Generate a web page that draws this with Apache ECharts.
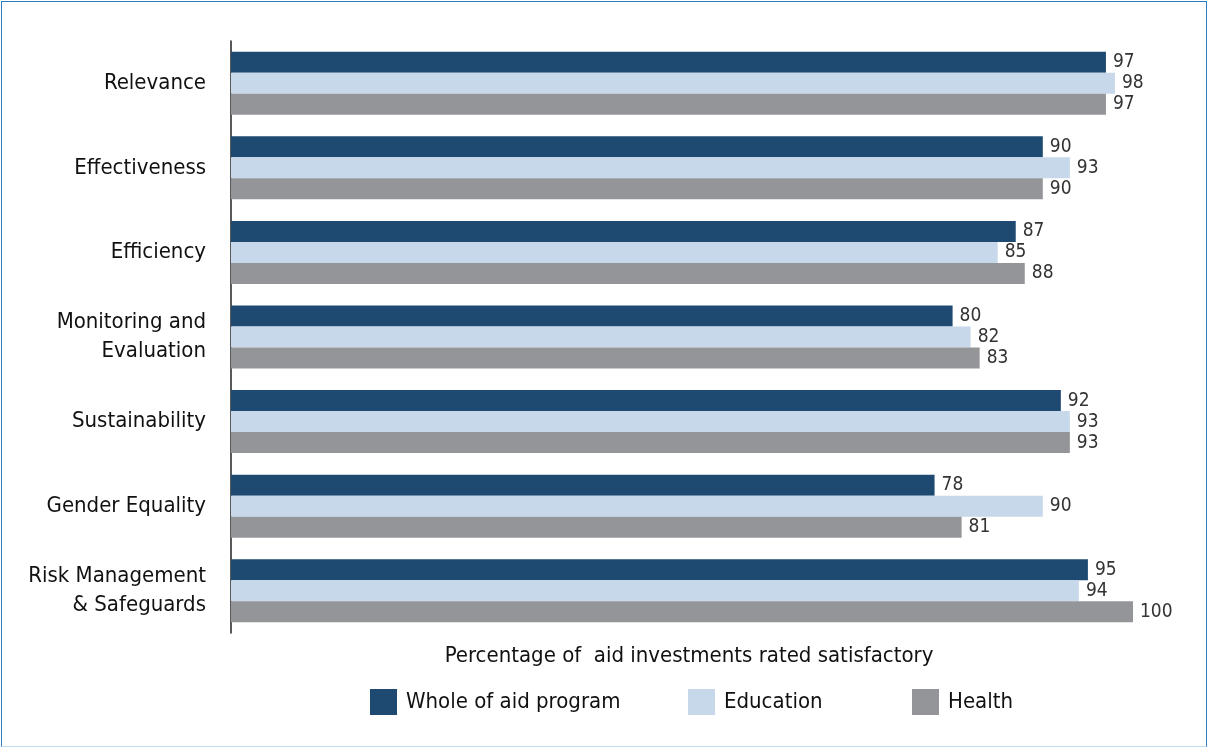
<!DOCTYPE html>
<html>
<head>
<meta charset="utf-8">
<script src="https://cdn.jsdelivr.net/npm/echarts@6/dist/echarts.min.js"></script>
<style>
  html, body { margin: 0; padding: 0; background: #fff; }
  #frame {
    position: absolute; left: 1px; top: 1px; width: 1204px; height: 744px;
    border: 1.5px solid #2b7bc2; border-bottom-color: #c2dcef;
  }
  #chart { position: absolute; left: 0; top: 0; width: 1208px; height: 749px; }
</style>
</head>
<body>
<div id="frame"></div>
<div id="chart"></div>
<script>
  // categories and values
  const categories = ['Relevance', 'Effectiveness', 'Efficiency', 'Monitoring and\nEvaluation',
    'Sustainability', 'Gender Equality', 'Risk Management\n& Safeguards'];
  const seriesNames = ['Whole of aid program', 'Education', 'Health'];
  const wholeProgram = [97, 90, 87, 80, 92, 78, 95];
  const education = [98, 93, 85, 82, 93, 90, 94];
  const health = [97, 90, 88, 83, 93, 81, 100];
  const colors = ['#1e4a72', '#c6d8ea', '#939598'];
  const legendLefts = [370, 688, 912];

  const font = '"Liberation Sans Narrow", "DejaVu Sans Condensed", sans-serif';
  let chart = echarts.init(document.getElementById('chart'));

  let data = [wholeProgram, education, health];
  let series = [];
  let legends = [];
  for (let i = 0; i < data.length; i++) {
    series.push({
      name: seriesNames[i],
      type: 'bar',
      data: data[i],
      barWidth: 21,
      barGap: '0%',
      itemStyle: { color: colors[i] },
      label: {
        show: true,
        position: 'right',
        distance: 7,
        color: '#333',
        fontSize: 19,
        fontFamily: font
      }
    });
    // one legend per item so the spacing matches the picture
    legends.push({
      data: [seriesNames[i]],
      left: legendLefts[i],
      top: 689,
      padding: 0,
      itemWidth: 27,
      itemHeight: 26,
      icon: 'rect',
      textStyle: { fontSize: 22, color: '#111', fontFamily: font, padding: [0, 0, 0, 4] }
    });
  }

  chart.setOption({
    animation: false,
    textStyle: { fontFamily: font },
    grid: { left: 231, right: 75, top: 41, bottom: 116 },
    legend: legends,
    xAxis: {
      type: 'value',
      min: 0,
      max: 100,
      name: 'Percentage of  aid investments rated satisfactory',
      nameLocation: 'middle',
      nameGap: 12,
      nameTextStyle: { fontSize: 22, color: '#111', fontFamily: font, padding: [0, 0, 0, 14] },
      axisLine: { show: false },
      axisTick: { show: false },
      axisLabel: { show: false },
      splitLine: { show: false }
    },
    yAxis: {
      type: 'category',
      inverse: true,
      data: categories,
      axisLine: { show: true, lineStyle: { color: '#222', width: 1.5 } },
      axisTick: { show: false },
      axisLabel: {
        margin: 25,
        fontSize: 22,
        lineHeight: 29,
        color: '#111',
        align: 'right',
        fontFamily: font
      }
    },
    series: series
  });
</script>
</body>
</html>
